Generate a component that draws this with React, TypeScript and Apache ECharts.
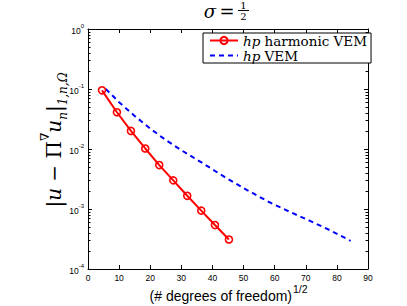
import { useEffect, useRef } from 'react';
import * as echarts from 'echarts';

// hp harmonic VEM (red, circles)
const harmonicX = [4.5, 9.3, 13.8, 18.4, 22.9, 27.4, 31.9, 36.4, 40.8, 45.3];
const harmonicY = [0.095, 0.041, 0.020, 0.0102, 0.0054, 0.0030, 0.00166, 0.00094, 0.00054, 0.00031];
// hp VEM (blue, dashed)
const vemX = [5.7, 10, 15, 20, 25, 30, 37, 44, 51, 58, 65, 71, 78, 84.4];
const vemY = [0.1, 0.0603, 0.0355, 0.0219, 0.0141, 0.00955, 0.00575, 0.00339, 0.00209, 0.00132, 0.00089, 0.000646, 0.000437, 0.000295];

const seriesNames = ['hp harmonic VEM', 'hp VEM'];
const decades = [1e-4, 1e-3, 1e-2, 1e-1];
const minorMultipliers = [2, 3, 4, 5, 6, 7, 8, 9];

const xMin = 0;
const xMax = 90;
const xInterval = 10;
const yMin = 1e-4;
const yMax = 1;

export default function App() {
  const ref = useRef<HTMLDivElement>(null);
  useEffect(() => {
    const chart = echarts.init(ref.current!, null, { renderer: 'svg' });
    const minorTicks: number[][] = [];
    decades.forEach((d) => minorMultipliers.forEach((m) => minorTicks.push([xMin, d * m])));

    const axisLine = { show: true, onZero: false, lineStyle: { color: '#000', width: 1 } };
    const tickLabelFont = 'Liberation Sans';
    const legendFont = 'DejaVu Serif';
    const option: any = {
      animation: false,
      backgroundColor: '#fff',
      grid: { left: 88, top: 29, width: 280, height: 240, containLabel: false },
      xAxis: [
        {
          type: 'value', min: xMin, max: xMax, interval: xInterval, position: 'bottom',
          axisLine, axisTick: { show: true, inside: true, length: 4, lineStyle: { color: '#000' } },
          splitLine: { show: false },
          axisLabel: { color: '#000', fontSize: 8.5, fontFamily: tickLabelFont, margin: 4 },
        },
        {
          type: 'value', min: xMin, max: xMax, interval: xInterval, position: 'top',
          axisLine, axisTick: { show: true, inside: true, length: 4, lineStyle: { color: '#000' } },
          splitLine: { show: false }, axisLabel: { show: false },
        },
      ],
      yAxis: [
        {
          type: 'log', logBase: 10, min: yMin, max: yMax, position: 'left',
          axisLine, axisTick: { show: true, inside: true, length: 4, lineStyle: { color: '#000' } },
          splitLine: { show: false },
          axisLabel: {
            color: '#000', margin: 4,
            formatter: (v: number) => '{b|10}{e|' + Math.round(Math.log10(v)) + '}',
            rich: {
              b: { fontSize: 8.5, fontFamily: tickLabelFont, color: '#000', verticalAlign: 'bottom', lineHeight: 12 },
              e: { fontSize: 6, fontFamily: tickLabelFont, color: '#000', verticalAlign: 'top', lineHeight: 12 },
            },
          },
        },
        {
          type: 'log', logBase: 10, min: yMin, max: yMax, position: 'right',
          axisLine, axisTick: { show: true, inside: true, length: 4, lineStyle: { color: '#000' } },
          splitLine: { show: false }, axisLabel: { show: false },
        },
      ],
      legend: {
        orient: 'vertical', left: 203, top: 33,
        itemWidth: 28, itemHeight: 9, itemGap: 0,
        padding: [0, 4, 0, 6],
        borderColor: '#000', borderWidth: 1, backgroundColor: '#fff',
        data: [
          { name: seriesNames[0] },
          { name: seriesNames[1], itemStyle: { opacity: 0 } },
        ],
        formatter: (name: string) => '{i|hp}{r|' + name.slice(2) + '}',
        textStyle: {
          fontFamily: legendFont, fontSize: 13.5, color: '#000', lineHeight: 15,
          rich: {
            i: { fontFamily: legendFont, fontStyle: 'italic', fontSize: 13.5, color: '#000', lineHeight: 15 },
            r: { fontFamily: legendFont, fontSize: 13.5, color: '#000', lineHeight: 15 },
          },
        },
      },
      series: [
        {
          type: 'custom', silent: true, xAxisIndex: 0, yAxisIndex: 0, clip: false,
          data: minorTicks,
          renderItem: (params: any, api: any) => {
            const v = api.value(1);
            const pl = api.coord([xMin, v]);
            const pr = api.coord([xMax, v]);
            const y = Math.round(pl[1]) + 0.5;
            return {
              type: 'group',
              children: [
                { type: 'line', shape: { x1: pl[0], y1: y, x2: pl[0] + 2.5, y2: y }, style: { stroke: '#000', lineWidth: 1 } },
                { type: 'line', shape: { x1: pr[0], y1: y, x2: pr[0] - 2.5, y2: y }, style: { stroke: '#000', lineWidth: 1 } },
              ],
            };
          },
        },
        {
          name: seriesNames[0], type: 'line', xAxisIndex: 0, yAxisIndex: 0,
          data: harmonicX.map((x, i) => [x, harmonicY[i]]),
          symbol: 'circle', symbolSize: 7,
          lineStyle: { color: '#ff0000', width: 2 },
          itemStyle: { color: 'rgba(255,255,255,0)', borderColor: '#ff0000', borderWidth: 1.6 },
          z: 3,
        },
        {
          name: seriesNames[1], type: 'line', xAxisIndex: 0, yAxisIndex: 0,
          data: vemX.map((x, i) => [x, vemY[i]]),
          symbol: 'none', smooth: false,
          lineStyle: { color: '#0000ff', width: 2, type: [5, 4] },
          itemStyle: { color: '#0000ff' },
          z: 2,
        },
      ],
      graphic: [
        // title sigma = 1/2
        { type: 'text', x: 210, y: 11, style: { text: 'σ', font: 'italic 18px DejaVu Serif', fill: '#000', align: 'center', verticalAlign: 'middle' } },
        { type: 'text', x: 227, y: 11, style: { text: '=', font: '18px DejaVu Serif', fill: '#000', align: 'center', verticalAlign: 'middle' } },
        { type: 'text', x: 243.5, y: 5.5, style: { text: '1', font: '10px DejaVu Serif', fill: '#000', align: 'center', verticalAlign: 'middle' } },
        { type: 'line', shape: { x1: 238, y1: 10.5, x2: 249, y2: 10.5 }, style: { stroke: '#000', lineWidth: 1 } },
        { type: 'text', x: 243.5, y: 16.5, style: { text: '2', font: '10px DejaVu Serif', fill: '#000', align: 'center', verticalAlign: 'middle' } },
        // x-axis label
        { type: 'text', x: 292, y: 296, style: { text: '(# degrees of freedom)', font: '14px Liberation Sans', fill: '#000', align: 'right', verticalAlign: 'middle' } },
        { type: 'text', x: 293, y: 289, style: { text: '1/2', font: '10.5px Liberation Sans', fill: '#000', align: 'left', verticalAlign: 'middle' } },
        // y-axis label
        {
          type: 'text', x: 54, y: 140, rotation: Math.PI / 2,
          style: {
            text: '{r||}{i|u}{r| − Π}{sup|∇}{i|u}{sub|n}{r||}{sub|1,n,Ω}',
            align: 'center', verticalAlign: 'middle',
            rich: {
              r: { font: '20px DejaVu Serif', fill: '#000', lineHeight: 30, verticalAlign: 'middle' },
              i: { font: 'italic 20px DejaVu Serif', fill: '#000', lineHeight: 30, verticalAlign: 'middle' },
              sup: { font: '12px DejaVu Serif', fill: '#000', lineHeight: 30, verticalAlign: 'top' },
              sub: { font: 'italic 12px DejaVu Serif', fill: '#000', lineHeight: 30, verticalAlign: 'bottom' },
            },
          },
        },
      ],
    };
    chart.setOption(option);
    return () => chart.dispose();
  }, []);
  return <div ref={ref} style={{ position: 'fixed', left: 0, top: 0, width: 407, height: 306 }} />;
}
